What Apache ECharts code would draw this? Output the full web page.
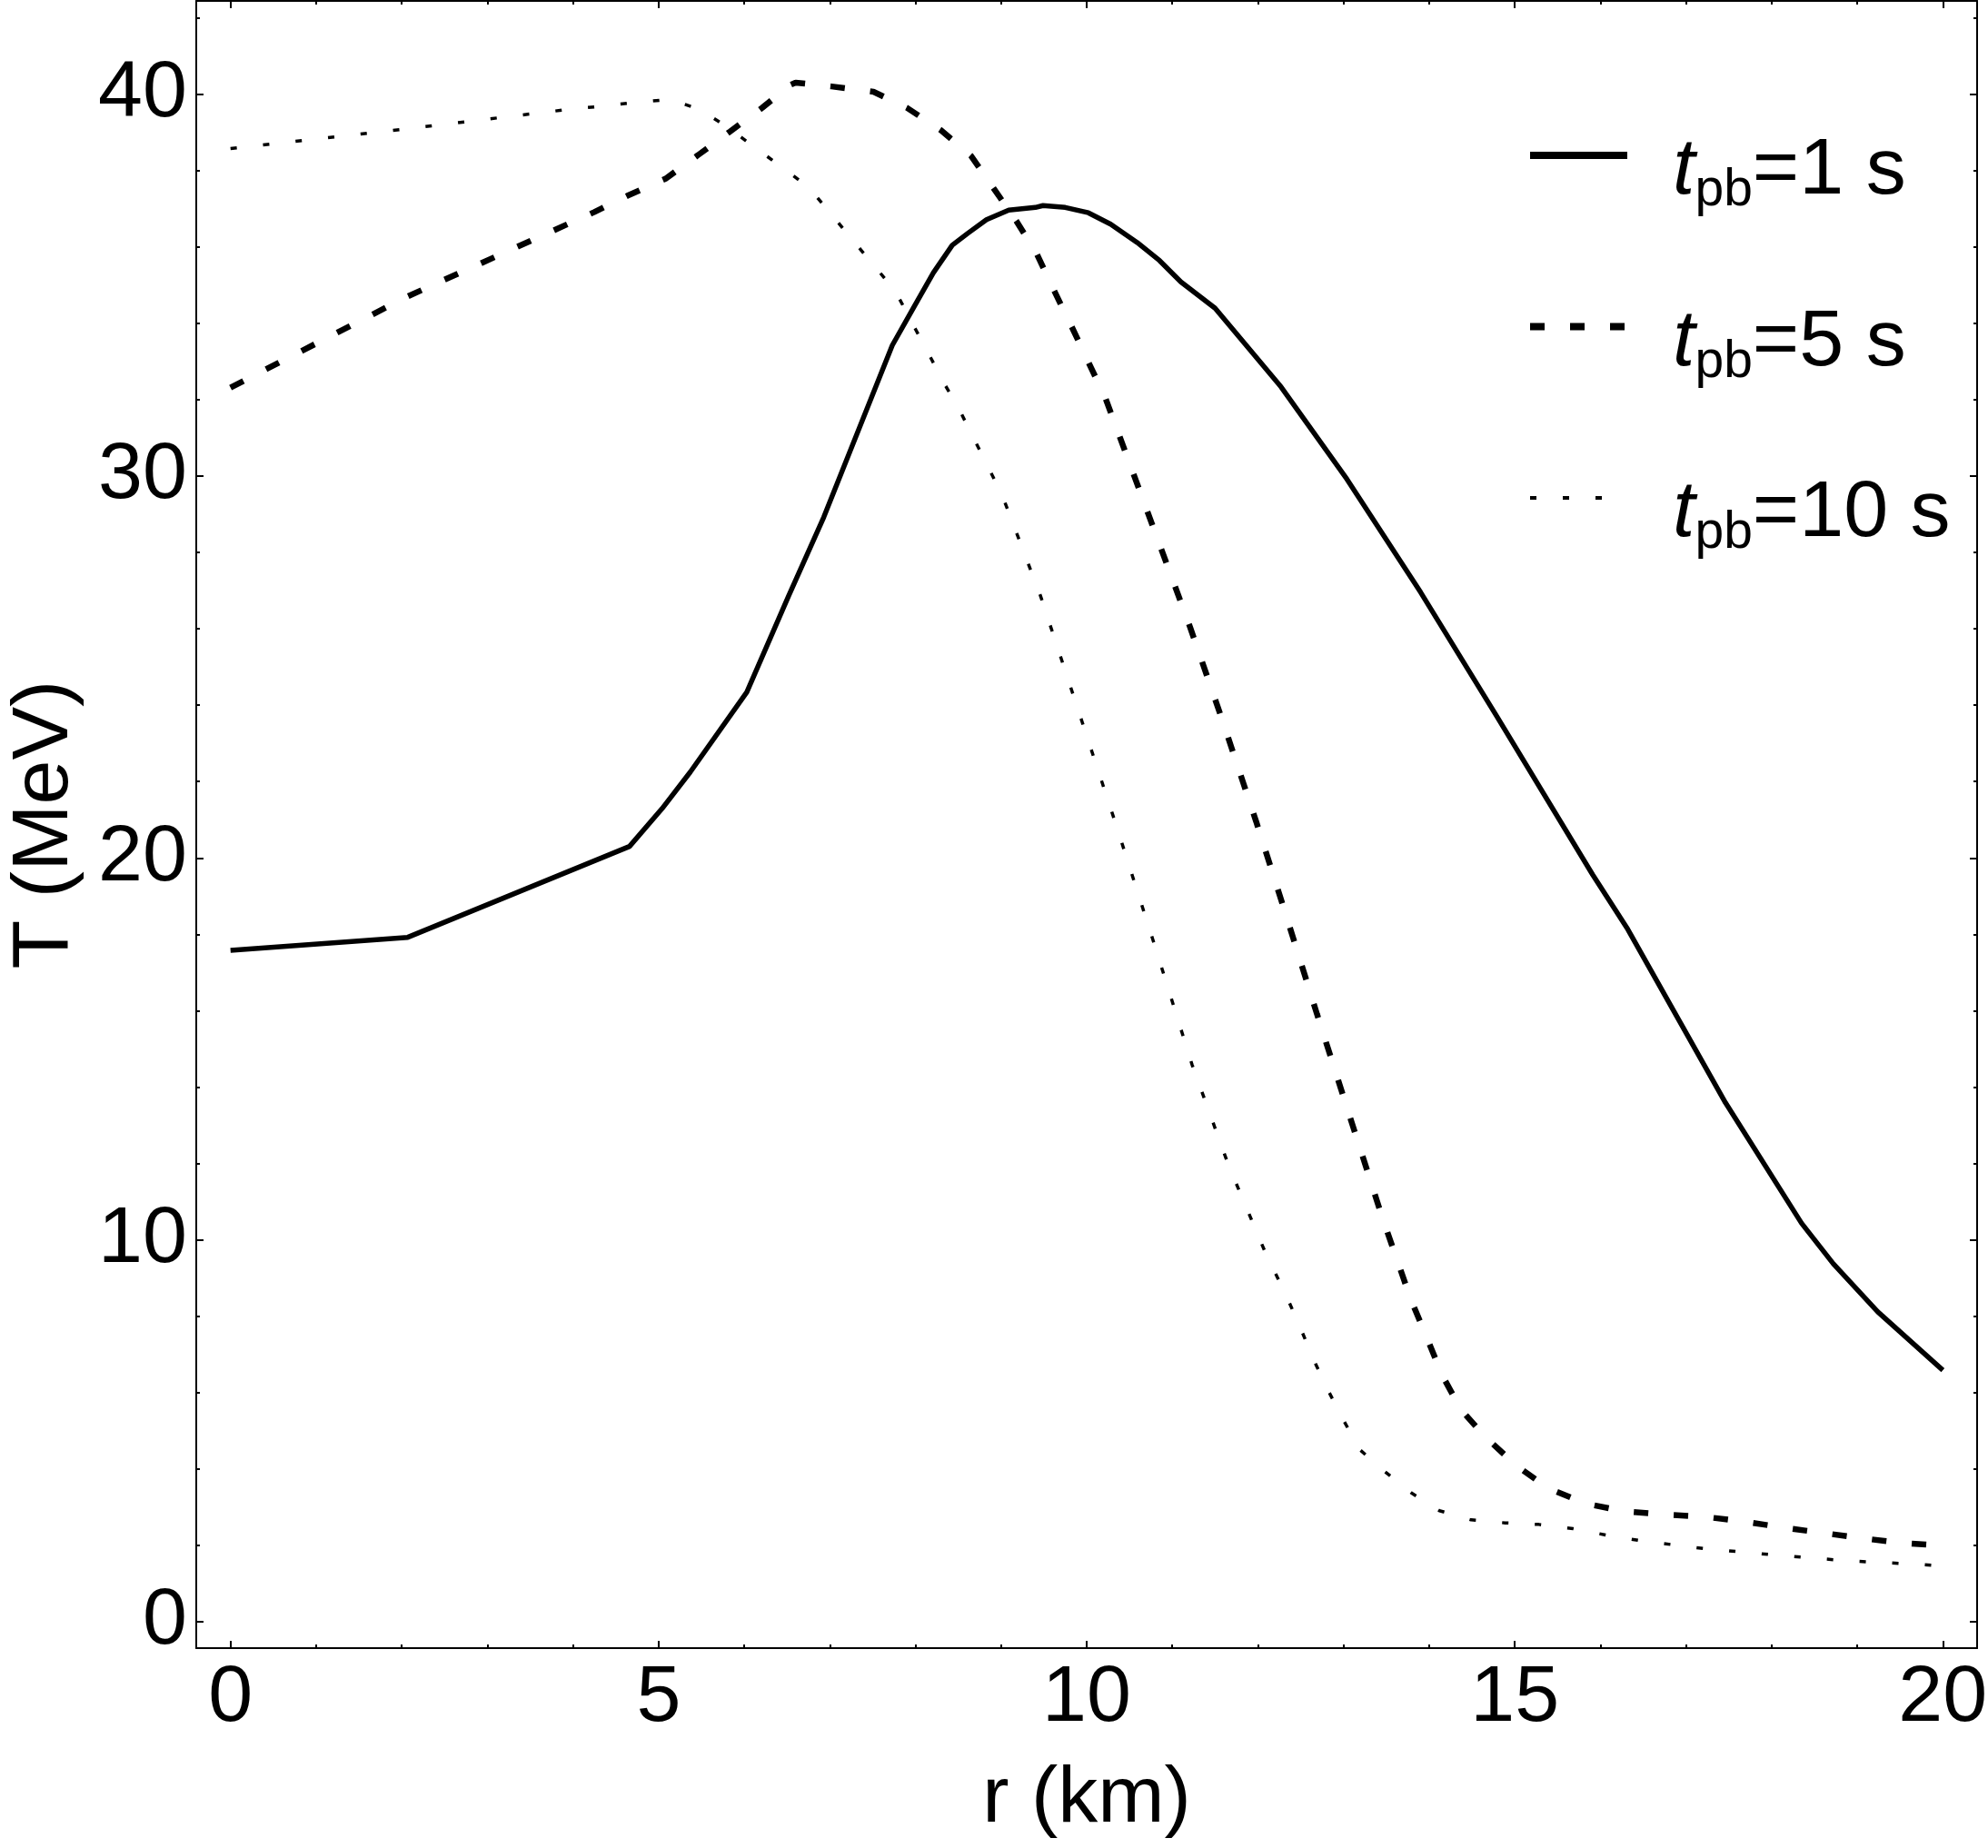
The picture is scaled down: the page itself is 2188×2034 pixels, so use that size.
<!DOCTYPE html>
<html><head><meta charset="utf-8">
<script src="https://cdn.jsdelivr.net/npm/echarts@6/dist/echarts.min.js"></script>
<style>html,body{margin:0;padding:0;background:#fff}#c{width:2188px;height:2034px}</style>
</head><body><div id="c"></div>
<script>
// t_pb = 1 s (solid)
const r1 = [0, 2.07, 4.66, 5.04, 5.37, 6.03, 6.52, 6.93, 7.44, 7.73, 7.99, 8.21, 8.43, 8.61, 8.83, 9.09, 9.4, 9.49, 9.75, 10.02, 10.28, 10.59, 10.85, 11.1, 11.5, 12.27, 13.04, 13.9, 14.79, 15.91, 16.32, 17.46, 18.35, 18.72, 19.24, 20];
const T1 = [17.58, 17.92, 20.3, 21.29, 22.25, 24.34, 26.87, 28.93, 31.8, 33.43, 34.46, 35.33, 36.05, 36.36, 36.72, 36.97, 37.04, 37.09, 37.04, 36.9, 36.6, 36.12, 35.65, 35.09, 34.4, 32.34, 29.92, 26.96, 23.71, 19.56, 18.13, 13.59, 10.43, 9.37, 8.11, 6.58];
// t_pb = 5 s (dashed)
const r5 = [0, 2.06, 4.25, 4.64, 5.08, 5.46, 5.83, 6.21, 6.54, 6.6, 7.02, 7.51, 7.9, 8.3, 8.65, 8.91, 9.18, 9.42, 9.62, 9.82, 10.02, 10.22, 10.69, 11.21, 11.58, 11.98, 12.32, 12.69, 13.06, 13.45, 13.79, 13.97, 14.15, 14.37, 14.67, 15.02, 15.39, 15.82, 16.29, 16.75, 17.22, 17.67, 18.13, 18.59, 19.05, 19.5, 20];
const T5 = [32.32, 34.7, 36.92, 37.35, 37.79, 38.41, 39.02, 39.65, 40.25, 40.31, 40.21, 40.07, 39.65, 39.06, 38.39, 37.55, 36.68, 35.81, 34.86, 33.94, 32.99, 32.04, 29.19, 26.03, 23.64, 20.95, 18.56, 15.91, 13.32, 10.6, 8.41, 7.45, 6.46, 5.55, 4.8, 4.08, 3.49, 3.09, 2.88, 2.8, 2.74, 2.62, 2.46, 2.32, 2.18, 2.06, 1.98];
// t_pb = 10 s (dotted)
const r10 = [0, 2.06, 3.99, 4.33, 4.73, 5.13, 5.48, 5.81, 6.13, 6.45, 6.76, 7.01, 7.26, 7.52, 7.77, 7.95, 8.14, 8.32, 8.5, 9.01, 9.46, 9.9, 10.34, 10.79, 11.23, 11.66, 12.08, 12.34, 12.5, 12.65, 12.82, 13.0, 13.19, 13.48, 13.79, 14.12, 14.49, 14.89, 15.28, 15.68, 16.07, 16.45, 16.84, 17.24, 17.64, 18.03, 18.43, 18.81, 19.21, 19.6, 20];
const T10 = [38.58, 39.1, 39.62, 39.69, 39.79, 39.87, 39.61, 39.14, 38.6, 38.08, 37.55, 36.88, 36.2, 35.51, 34.83, 34.06, 33.27, 32.49, 31.8, 29.52, 26.87, 23.88, 20.89, 17.74, 14.59, 11.93, 9.7, 8.49, 7.67, 6.86, 6.05, 5.27, 4.5, 3.93, 3.37, 2.9, 2.66, 2.58, 2.54, 2.43, 2.26, 2.12, 2.01, 1.9, 1.82, 1.74, 1.67, 1.6, 1.55, 1.51, 1.45];

const seriesNames = ['t1', 't5', 't10'];
const legendValues = ['=1 s', '=5 s', '=10 s'];
const xMajor = [0, 5, 10, 15, 20];
const xMinor = [1, 2, 3, 4, 6, 7, 8, 9, 11, 12, 13, 14, 16, 17, 18, 19];
const yMajor = [0, 10, 20, 30, 40];
const yMinor = [2, 4, 6, 8, 12, 14, 16, 18, 22, 24, 26, 28, 32, 34, 36, 38, 42];

const FF = '"Liberation Sans", Arial, sans-serif';
const zip = (a, b) => a.map((v, i) => [v, b[i]]);

const xRange = {min: -0.4, max: 20.4};
const yRange = {min: -0.7, max: 42.45};
const line = {show: true, onZero: false, lineStyle: {color: '#000', width: 2}};
const noLine = {show: false, onZero: false};
const tick = (vals, len) => ({show: true, inside: true, length: len, customValues: vals, lineStyle: {color: '#000', width: 2}});
const off = {show: false};

function xAx(pos, major, withLine, extra) {
  return Object.assign({type: 'value', position: pos, ...xRange,
    axisLine: withLine ? line : noLine,
    axisTick: major ? tick(xMajor, 8) : tick(xMinor, 4),
    axisLabel: off, splitLine: off}, extra || {});
}
function yAx(pos, major, withLine, extra) {
  return Object.assign({type: 'value', position: pos, ...yRange,
    axisLine: withLine ? line : noLine,
    axisTick: major ? tick(yMajor, 8) : tick(yMinor, 4),
    axisLabel: off, splitLine: off}, extra || {});
}

const styles = {
  t1: {width: 5.5, type: 'solid'},
  t5: {width: 6.5, type: [16, 28]},
  t10: {width: 3.5, type: [7, 29]}
};

const chart = echarts.init(document.getElementById('c'), null, {renderer: 'canvas'});
chart.setOption({
  animation: false,
  backgroundColor: '#fff',
  grid: {left: 216, right: 12, top: 1, bottom: 220, containLabel: false, outerBoundsMode: 'none'},
  xAxis: [
    xAx('bottom', true, true, {
      axisLabel: {show: true, customValues: xMajor, fontSize: 88, color: '#000', margin: 12, fontFamily: FF},
      name: 'r (km)', nameLocation: 'middle', nameGap: 123,
      nameTextStyle: {fontSize: 88, color: '#000', fontFamily: FF}
    }),
    xAx('bottom', false, false),
    xAx('top', true, true),
    xAx('top', false, false)
  ],
  yAxis: [
    yAx('left', true, true, {
      axisLabel: {show: true, customValues: yMajor, fontSize: 88, color: '#000', margin: 10, fontFamily: FF},
      name: 'T (MeV)', nameLocation: 'middle', nameGap: 122, nameRotate: 90,
      nameTextStyle: {fontSize: 88, color: '#000', fontFamily: FF}
    }),
    yAx('left', false, false),
    yAx('right', true, true),
    yAx('right', false, false)
  ],
  legend: {
    orient: 'vertical', left: 1675, top: 140, itemWidth: 107, itemHeight: 14, itemGap: 94.5,
    itemStyle: {opacity: 0, borderWidth: 0},
    data: seriesNames.map((n, i) => ({
      name: n,
      itemStyle: {opacity: 0, borderWidth: 0},
      lineStyle: {color: '#000', width: i === 2 ? 4 : 8, type: styles[n].type, cap: 'butt', opacity: 1}
    })),
    formatter: name => '{i|t}{s|pb}{n|' + legendValues[seriesNames.indexOf(name)] + '}',
    textStyle: {
      color: '#000', fontFamily: FF, padding: [36, 0, 0, 0],
      rich: {
        i: {fontSize: 88, fontStyle: 'italic', lineHeight: 100, padding: [0, 0, 0, 45], fontFamily: FF, color: '#000'},
        s: {fontSize: 57, lineHeight: 54, verticalAlign: 'bottom', fontFamily: FF, color: '#000'},
        n: {fontSize: 88, lineHeight: 100, fontFamily: FF, color: '#000'}
      }
    }
  },
  series: seriesNames.map((n, i) => ({
    name: n, type: 'line', data: zip([r1, r5, r10][i], [T1, T5, T10][i]),
    showSymbol: false, symbol: 'none',
    lineStyle: {color: '#000', width: styles[n].width, type: styles[n].type, cap: 'butt'},
    itemStyle: {color: '#000'}
  }))
});
</script>
</body></html>
